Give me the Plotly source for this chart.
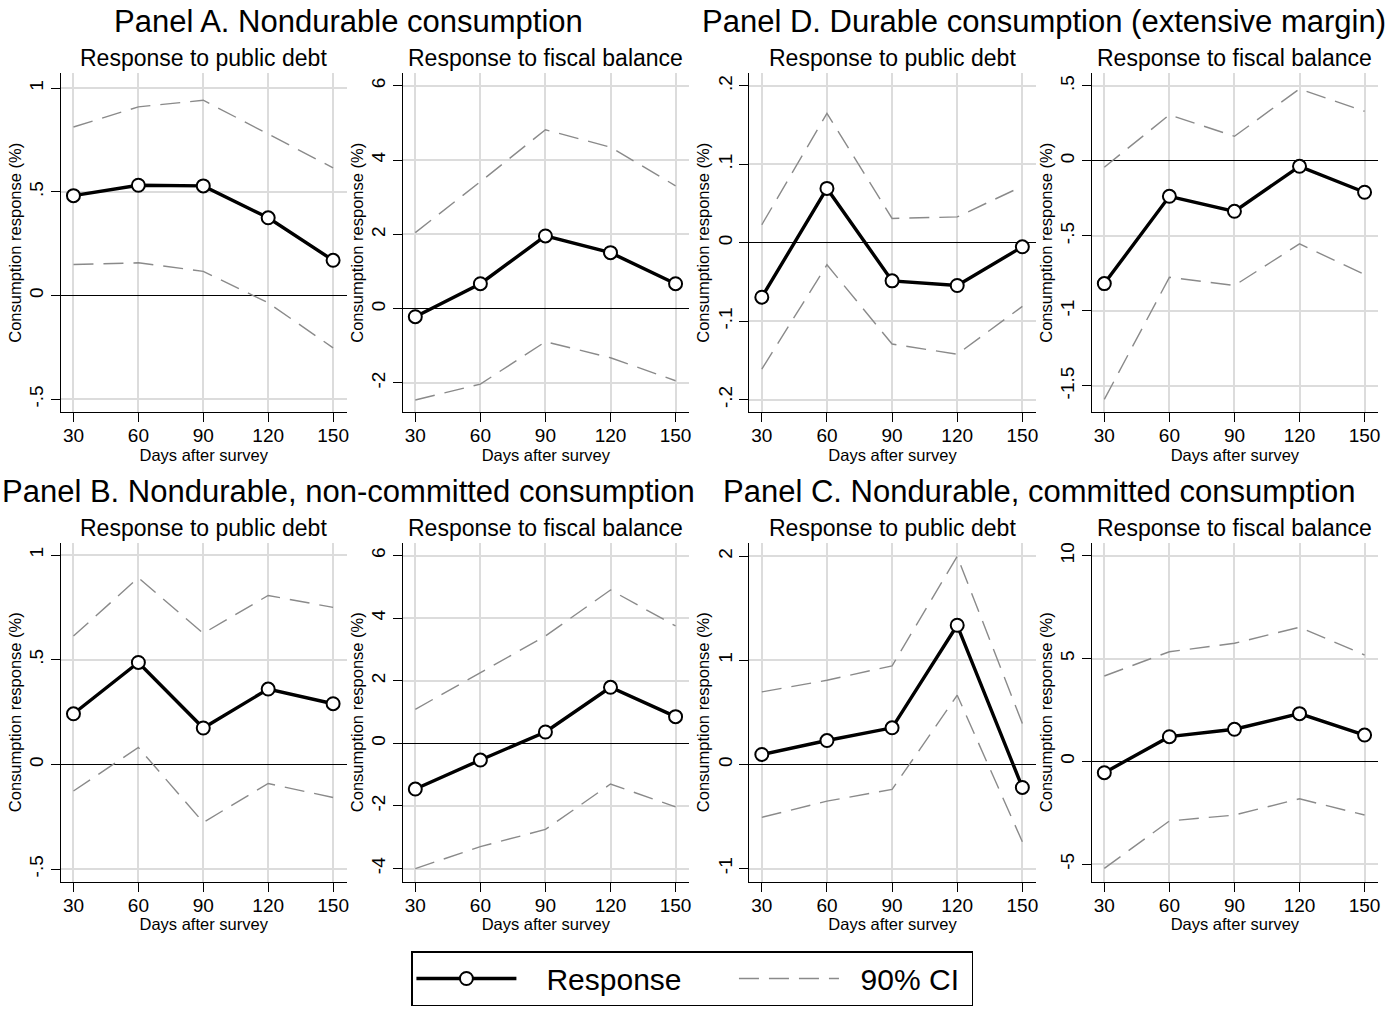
import plotly.graph_objects as go

W, H = 1397, 1013
FONT = "Liberation Sans, Arial, sans-serif"

days = [30, 60, 90, 120, 150]

# Panel A. Nondurable consumption
a_debt_resp = [0.482, 0.532, 0.529, 0.375, 0.170]
a_debt_hi = [0.813, 0.910, 0.942, 0.777, 0.616]
a_debt_lo = [0.150, 0.158, 0.117, -0.035, -0.252]
a_fisc_resp = [-0.216, 0.674, 1.96, 1.51, 0.674]
a_fisc_hi = [2.05, 3.42, 4.82, 4.35, 3.31]
a_fisc_lo = [-2.46, -2.03, -0.89, -1.32, -1.94]

# Panel D. Durable consumption (extensive margin)
d_debt_resp = [-0.0693, 0.0693, -0.0485, -0.0544, -0.0051]
d_debt_hi = [0.023, 0.165, 0.031, 0.033, 0.072]
d_debt_lo = [-0.161, -0.028, -0.129, -0.142, -0.081]
d_fisc_resp = [-0.818, -0.236, -0.336, -0.036, -0.209]
d_fisc_hi = [-0.042, 0.307, 0.164, 0.480, 0.331]
d_fisc_lo = [-1.59, -0.776, -0.831, -0.553, -0.758]

# Panel B. Nondurable, non-committed consumption
b_debt_resp = [0.242, 0.487, 0.174, 0.360, 0.290]
b_debt_hi = [0.613, 0.892, 0.626, 0.807, 0.750]
b_debt_lo = [-0.127, 0.081, -0.277, -0.091, -0.158]
b_fisc_resp = [-1.46, -0.533, 0.362, 1.79, 0.853]
b_fisc_hi = [1.087, 2.26, 3.43, 4.90, 3.75]
b_fisc_lo = [-4.0, -3.30, -2.75, -1.30, -2.03]

# Panel C. Nondurable, committed consumption
c_debt_resp = [0.096, 0.230, 0.352, 1.337, -0.221]
c_debt_hi = [0.697, 0.809, 0.947, 2.0, 0.393]
c_debt_lo = [-0.508, -0.352, -0.240, 0.665, -0.742]
c_fisc_resp = [-0.55, 1.20, 1.56, 2.32, 1.28]
c_fisc_hi = [4.15, 5.33, 5.74, 6.52, 5.17]
c_fisc_lo = [-5.20, -2.90, -2.61, -1.82, -2.61]

panel_titles = [
    "Panel A. Nondurable consumption",
    "Panel D. Durable consumption (extensive margin)",
    "Panel B. Nondurable, non-committed consumption",
    "Panel C. Nondurable, committed consumption",
]
sub_titles = ["Response to public debt", "Response to fiscal balance"]
x_title = "Days after survey"
y_title = "Consumption response (%)"
legend_labels = ["Response", "90% CI"]

# subplot order: row1: A-debt, A-fisc, D-debt, D-fisc ; row2: B-debt, B-fisc, C-debt, C-fisc
series = [
    (a_debt_resp, a_debt_lo, a_debt_hi),
    (a_fisc_resp, a_fisc_lo, a_fisc_hi),
    (d_debt_resp, d_debt_lo, d_debt_hi),
    (d_fisc_resp, d_fisc_lo, d_fisc_hi),
    (b_debt_resp, b_debt_lo, b_debt_hi),
    (b_fisc_resp, b_fisc_lo, b_fisc_hi),
    (c_debt_resp, c_debt_lo, c_debt_hi),
    (c_fisc_resp, c_fisc_lo, c_fisc_hi),
]
y_ticks = [
    ([-0.5, 0, 0.5, 1], ["-.5", "0", ".5", "1"]),
    ([-2, 0, 2, 4, 6], ["-2", "0", "2", "4", "6"]),
    ([-0.2, -0.1, 0, 0.1, 0.2], ["-.2", "-.1", "0", ".1", ".2"]),
    ([-1.5, -1, -0.5, 0, 0.5], ["-1.5", "-1", "-.5", "0", ".5"]),
    ([-0.5, 0, 0.5, 1], ["-.5", "0", ".5", "1"]),
    ([-4, -2, 0, 2, 4, 6], ["-4", "-2", "0", "2", "4", "6"]),
    ([-1, 0, 1, 2], ["-1", "0", "1", "2"]),
    ([-5, 0, 5, 10], ["-5", "0", "5", "10"]),
]
y_ranges = [
    [-0.563, 1.072], [-2.79, 6.34], [-0.216, 0.216], [-1.676, 0.584],
    [-0.56, 1.059], [-4.42, 6.41], [-1.126, 2.13], [-5.85, 10.63],
]
x_range = [24.2, 156.2]

# layout geometry (pixels)
cols_px = [(61, 347), (403.3, 690), (750.3, 1037.3), (1093.3, 1380)]
rows_px = [(73.3, 412.3), (542.7, 881.7)]

NB = "\u00a0"

fig = go.Figure()
layout = {}
annotations = []

for i, (resp, lo, hi) in enumerate(series):
    r, c = divmod(i, 4)
    n = i + 1
    xa = "x" if n == 1 else f"x{n}"
    ya = "y" if n == 1 else f"y{n}"
    for k, ci in enumerate([lo, hi]):
        fig.add_trace(go.Scatter(
            x=days, y=ci, xaxis=xa, yaxis=ya, mode="lines",
            line=dict(color="#8a8a8a", width=1.4, dash="20px,10px"),
            name=NB * 2 + legend_labels[1], legendgroup="ci", legend="legend2",
            showlegend=(i == 0 and k == 0),
        ))
    fig.add_trace(go.Scatter(
        x=days, y=resp, xaxis=xa, yaxis=ya, mode="lines+markers",
        line=dict(color="black", width=3.4),
        marker=dict(symbol="circle", size=13, color="white",
                    line=dict(color="black", width=2)),
        name=NB * 3 + legend_labels[0], legendgroup="resp", legend="legend",
        showlegend=(i == 0),
    ))
    x0, x1 = cols_px[c]
    y0, y1 = rows_px[r]
    xdom = [x0 / W, x1 / W]
    ydom = [1 - y1 / H, 1 - y0 / H]
    xkey = "xaxis" if n == 1 else f"xaxis{n}"
    ykey = "yaxis" if n == 1 else f"yaxis{n}"
    layout[xkey] = dict(
        domain=xdom, anchor=ya, range=x_range,
        tickmode="array", tickvals=days, ticktext=[str(d) for d in days],
        showgrid=True, gridcolor="#dcdcdc", gridwidth=1.5,
        zeroline=False, showline=True, linecolor="black", linewidth=1,
        ticks="outside", ticklen=9, tickcolor="black", tickwidth=1,
        ticklabelstandoff=-3,
        tickfont=dict(family=FONT, size=19, color="black"),
        title=dict(text=x_title, standoff=0,
                   font=dict(family=FONT, size=16.5, color="black")),
        fixedrange=True,
    )
    tv, tt = y_ticks[i]
    layout[ykey] = dict(
        domain=ydom, anchor=xa, range=y_ranges[i],
        tickmode="array", tickvals=tv, ticktext=tt, tickangle=-90,
        showgrid=True, gridcolor="#dcdcdc", gridwidth=1.5,
        zeroline=True, zerolinecolor="black", zerolinewidth=1.2,
        showline=True, linecolor="black", linewidth=1,
        ticks="outside", ticklen=9, tickcolor="black", tickwidth=1,
        tickfont=dict(family=FONT, size=19, color="black"),
        title=dict(text=y_title, standoff=0,
                   font=dict(family=FONT, size=16.5, color="black")),
        fixedrange=True,
    )
    annotations.append(dict(
        text=sub_titles[c % 2], x=(x0 + x1) / 2 / W, y=1 - (y0 - 15) / H,
        xref="paper", yref="paper", xanchor="center", yanchor="middle",
        showarrow=False, font=dict(family=FONT, size=23, color="black"),
    ))

panel_pos = [(349.5, 22), (1045, 22), (349.5, 491), (1040, 491)]
for t, (px, py) in zip(panel_titles, panel_pos):
    annotations.append(dict(
        text=t, x=px / W, y=1 - py / H, xref="paper", yref="paper",
        xanchor="center", yanchor="middle", showarrow=False,
        font=dict(family=FONT, size=31, color="black"),
    ))

fig.update_layout(
    **layout,
    annotations=annotations,
    width=W, height=H,
    margin=dict(l=0, r=0, t=0, b=0),
    paper_bgcolor="white", plot_bgcolor="white",
    showlegend=True,
    legend=dict(
        orientation="h", x=412 / W, xanchor="left",
        y=1 - 951 / H, yanchor="top",
        bordercolor="black", borderwidth=1.5, bgcolor="white",
        font=dict(family=FONT, size=30, color="black"),
        itemwidth=100,
        entrywidth=445, entrywidthmode="pixels",
    ),
    legend2=dict(
        orientation="h", x=735 / W, xanchor="left",
        y=1 - 952.5 / H, yanchor="top",
        borderwidth=0, bgcolor="rgba(0,0,0,0)",
        font=dict(family=FONT, size=30, color="black"),
        itemwidth=100,
    ),
    font=dict(family=FONT, color="black"),
)

fig.write_html("out.html")
